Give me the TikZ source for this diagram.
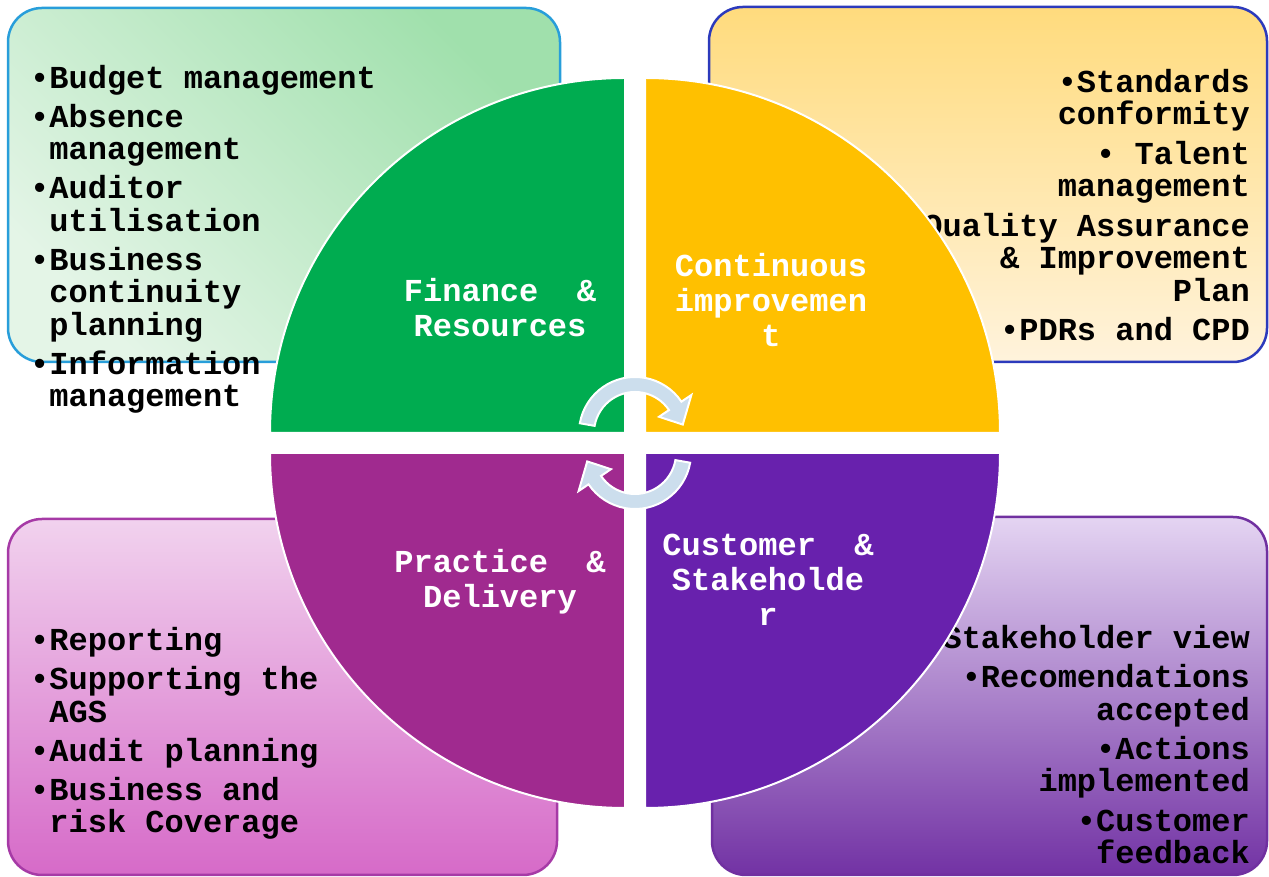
\documentclass[tikz,border=0pt]{standalone}
\usepackage{fontspec}
\setmonofont{Liberation Mono}
\usepackage{xcolor}
\usepackage{tikz}
\usetikzlibrary{calc}
\definecolor{greenquad}{RGB}{0, 172, 80}
\definecolor{yellowquad}{RGB}{255, 192, 0}
\definecolor{magentaquad}{RGB}{160, 42, 143}
\definecolor{violetquad}{RGB}{104, 33, 173}
\definecolor{arrowfill}{RGB}{204, 222, 237}
\definecolor{greenedge}{RGB}{40, 158, 218}
\definecolor{greentop}{RGB}{160, 224, 172}
\definecolor{greenlow}{RGB}{228, 245, 231}
\definecolor{yellowedge}{RGB}{44, 58, 188}
\definecolor{yellowtop}{RGB}{255, 219, 125}
\definecolor{yellowlow}{RGB}{255, 243, 220}
\definecolor{magentaedge}{RGB}{166, 58, 166}
\definecolor{magentatop}{RGB}{241, 210, 238}
\definecolor{magentalow}{RGB}{214, 106, 200}
\definecolor{violetedge}{RGB}{112, 48, 160}
\definecolor{violettop}{RGB}{228, 212, 242}
\definecolor{violetlow}{RGB}{114, 50, 164}

\begin{document}
\begin{tikzpicture}[
    x=1pt, y=1pt,
    panel/.style={rounded corners=34pt, line width=2.5pt},
    quad/.style={draw=white, line width=2pt},
    itemlist/.style={inner sep=0pt, font=\ttfamily\bfseries\fontsize{32}{32.5}\selectfont},
    quadlabel/.style={inner sep=0pt, align=center, text=white,
        font=\ttfamily\bfseries\fontsize{32}{35}\selectfont},
    cyclearrow/.style={fill=arrowfill, draw=white, line width=2pt}
]
    \useasboundingbox (0,0) rectangle (1269,877);

    % corner panels
    \shadedraw [panel, draw=greenedge, top color=greentop, bottom color=greenlow, shading angle=-45]
        (8,515) rectangle (560,869);
    \shadedraw [panel, draw=yellowedge, top color=yellowtop, bottom color=yellowlow]
        (709,515) rectangle (1267,870);
    \shadedraw [panel, draw=magentaedge, top color=magentatop, bottom color=magentalow]
        (8,2) rectangle (557,358);
    \shadedraw [panel, draw=violetedge, top color=violettop, bottom color=violetlow]
        (712,2) rectangle (1267,360);

    % lists (base anchor = last line)
    \node [itemlist, align=left, anchor=base west] (financelist) at (30,470) {%
        •Budget management\\[6.5pt]
        •Absence\\ \phantom{•}management\\[6.5pt]
        •Auditor\\ \phantom{•}utilisation\\[6.5pt]
        •Business\\ \phantom{•}continuity\\ \phantom{•}planning\\[6.5pt]
        •Information\\ \phantom{•}management};
    \node [itemlist, align=right, anchor=base east] (improvelist) at (1250,536) {%
        •Standards\\conformity\\[7pt]
        • Talent\\management\\[7pt]
        •Quality Assurance\\\& Improvement\\Plan\\[7pt]
        •PDRs and CPD};
    \node [itemlist, align=left, anchor=base west] (practicelist) at (30,44) {%
        •Reporting\\[6.5pt]
        •Supporting the\\ \phantom{•}AGS\\[6.5pt]
        •Audit planning\\[6.5pt]
        •Business and\\ \phantom{•}risk Coverage};
    \node [itemlist, align=right, anchor=base east] (customerlist) at (1250,13) {%
        •Stakeholder view\\[6.5pt]
        •Recomendations\\accepted\\[6.5pt]
        •Actions\\implemented\\[7pt]
        •Customer\\feedback};

    % the four quarter discs
    \path [quad, fill=greenquad]   (625,444) -- (270,444) arc[start angle=180, end angle=90, radius=355] -- cycle;
    \path [quad, fill=yellowquad]  (645,444) -- (645,799) arc[start angle=90, end angle=0, radius=355] -- cycle;
    \path [quad, fill=magentaquad] (625,424) -- (270,424) arc[start angle=180, end angle=270, radius=355] -- cycle;
    \path [quad, fill=violetquad]  (645,424) -- (1000,424) arc[start angle=0, end angle=-90, radius=355] -- cycle;

    % circular arrows in the middle
    \path [cyclearrow, shift={(635,444)}]
        (170:56) arc[start angle=170, end angle=34, radius=56] -- (34:68) -- (10:48.5)
        -- (34:29) -- (34:41) arc[start angle=34, end angle=170, radius=41] -- cycle;
    \path [cyclearrow, shift={(635,424)}, rotate=180]
        (170:56) arc[start angle=170, end angle=34, radius=56] -- (34:68) -- (10:48.5)
        -- (34:29) -- (34:41) arc[start angle=34, end angle=170, radius=41] -- cycle;

    \node [quadlabel, anchor=base] (finance)  at (500,540) {Finance\ \ \&\\Resources};
    \node [quadlabel, anchor=base] (improve)  at (771,530) {Continuous\\improvemen\\t};
    \node [quadlabel, anchor=base] (practice) at (500,269) {Practice\ \ \&\\Delivery};
    \node [quadlabel, anchor=base] (customer) at (768,251) {Customer\ \ \&\\Stakeholde\\r};
\end{tikzpicture}
\end{document}
